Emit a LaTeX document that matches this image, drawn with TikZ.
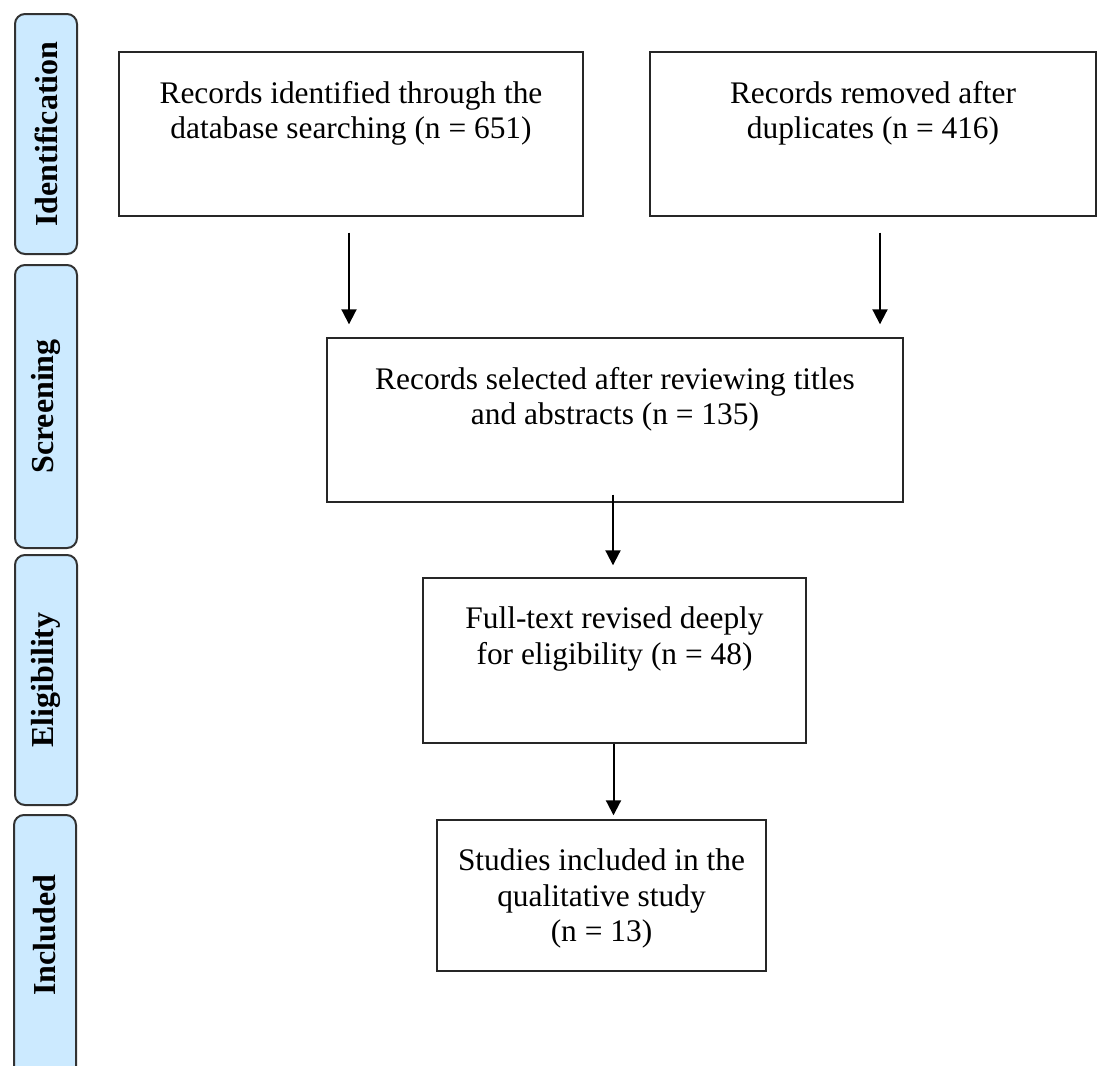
\documentclass[tikz,border=0pt]{standalone}
\usepackage{fontspec}
\setmainfont{Liberation Serif}
\usetikzlibrary{arrows.meta,calc}
\definecolor{phasefill}{RGB}{204,234,255}
\definecolor{phasedraw}{RGB}{50,50,50}
\newcommand{\flowtext}[3]{\parbox[c][#2][t]{#1}{\vspace*{14.5pt}\centering\fontsize{15.7}{17.8}\selectfont #3\par}}
\begin{document}
\begin{tikzpicture}[x=0.5pt,y=-0.5pt,
  flowbox/.style={draw=black!85, line width=0.7pt, fill=white, inner sep=0pt, rectangle},
  phase/.style={draw=phasedraw, line width=1pt, fill=phasefill, rounded corners=5pt, rotate=90,
    inner sep=0pt, minimum height=31pt, font=\fontsize{16}{19}\selectfont\bfseries},
  arr/.style={line width=1pt, -{Triangle[width=7.5pt,length=7.5pt]}}]
\useasboundingbox (0,0) rectangle (1100,1066);
\clip (0,0) rectangle (1100,1066);

% phase bars
\node[phase, minimum width=120pt]   (p1) at (46,134)   {Identification};
\node[phase, minimum width=141.5pt] (p2) at (46,406.5) {Screening};
\node[phase, minimum width=125pt]   (p3) at (46,680)   {Eligibility};
\node[phase, minimum width=132.5pt] (p4) at (45,947.5) {\hspace*{12.5pt}Included};

% flow boxes
\node[flowbox] (b1) at (351,134)     {\flowtext{232pt}{82pt}{Records identified through the\\database searching (n = 651)}};
\node[flowbox] (b2) at (873,134)     {\flowtext{223pt}{82pt}{Records removed after\\duplicates (n = 416)}};
\node[flowbox] (b3) at (615,420)     {\flowtext{288pt}{82pt}{Records selected after reviewing titles\\and abstracts (n = 135)}};
\node[flowbox] (b4) at (614.5,660.5) {\flowtext{191.5pt}{82.5pt}{Full-text revised deeply\\for eligibility (n = 48)}};
\node[flowbox] (b5) at (601.5,895.5) {\flowtext{164.5pt}{75.5pt}{Studies included in the\\qualitative study\\(n = 13)}};

% connectors
\draw[arr] ($(b1.south)+(-2,16)$) -- ($(b1.south |- b3.north)+(-2,-13)$);
\draw[arr] ($(b2.south)+(7,16)$)  -- ($(b2.south |- b3.north)+(7,-13)$);
\draw[arr] ($(b3.south)+(-2,-8)$) -- ($(b3.south |- b4.north)+(-2,-12)$);
\draw[arr] ($(b4.south)+(-1,0)$)  -- ($(b4.south |- b5.north)+(-1,-4)$);
\end{tikzpicture}
\end{document}
